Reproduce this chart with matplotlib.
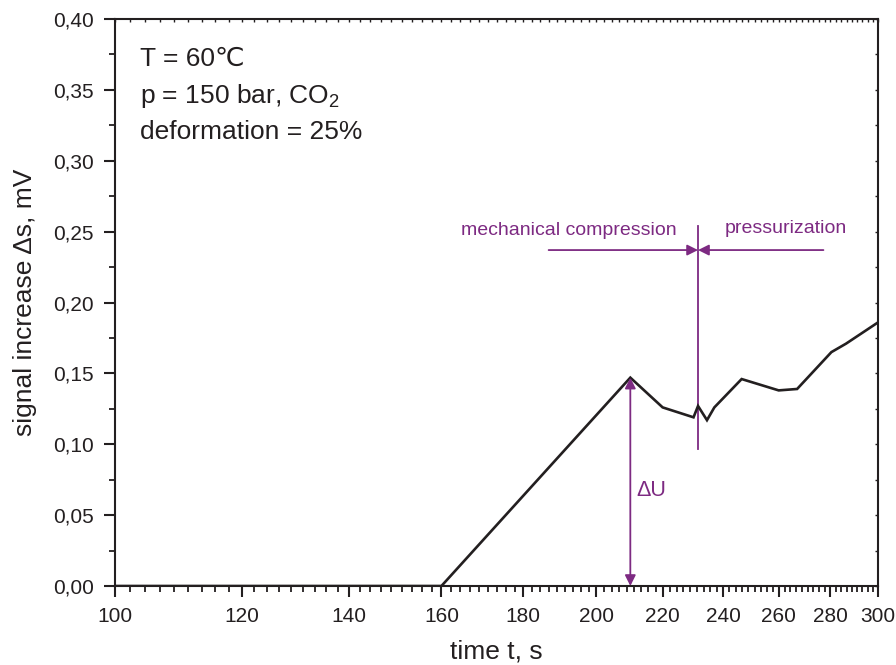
import numpy as np
import matplotlib
matplotlib.use("Agg")
import matplotlib.pyplot as plt
from matplotlib.ticker import FuncFormatter, NullFormatter

plt.rcParams['font.family'] = ['Liberation Sans', 'DejaVu Sans']
plt.rcParams['mathtext.fontset'] = 'custom'
plt.rcParams['mathtext.rm'] = 'Liberation Sans'
plt.rcParams['mathtext.it'] = 'Liberation Sans:italic'

# signal trace
time_s = [100, 160, 210, 220, 230, 231.5, 234.5, 237, 246.5, 260, 267, 280.5, 286.5, 300]
signal_mV = [0, 0, 0.147, 0.126, 0.119, 0.127, 0.117, 0.126, 0.146, 0.138, 0.139, 0.165, 0.171, 0.186]

x_major = list(range(100, 301, 20))
y_major = [0, 0.05, 0.10, 0.15, 0.20, 0.25, 0.30, 0.35, 0.40]

t_peak = 210
s_peak = 0.147
t_switch = 231.5
phase_left = 186.7
phase_right = 277.3
phase_y = 0.237

info_lines = ["T = 60\u2103", "p = 150 bar, CO$_2$", "deformation = 25%"]

purple = '#7d2a82'
ink = '#231f20'

# Origin-like minor ticks: 8 between majors
x_minor = [a + k * 20 / 9 for a in x_major[:-1] for k in range(1, 9)]
y_minor = [v + 0.025 for v in y_major[:-1]]

fig = plt.figure(figsize=(8.96, 6.65), dpi=100)
ax = fig.add_axes([0.1283, 0.1188, 0.98 - 0.1283, 0.9714 - 0.1188])

ax.plot(time_s, signal_mV, color=ink, lw=1.9, solid_joinstyle='miter', zorder=3)

ax.set_xscale('log')
ax.set_xlim(100, 300)
ax.set_ylim(0, 0.40)
ax.set_xticks(x_major)
ax.set_xticks(x_minor, minor=True)
ax.set_yticks(y_major)
ax.set_yticks(y_minor, minor=True)
ax.xaxis.set_major_formatter(FuncFormatter(lambda v, p: f"{v:.0f}"))
ax.xaxis.set_minor_formatter(NullFormatter())
ax.yaxis.set_major_formatter(FuncFormatter(lambda v, p: f"{v:.2f}".replace('.', ',')))

for sp in ax.spines.values():
    sp.set_linewidth(1.5)
    sp.set_color(ink)
ax.tick_params(which='major', length=8, width=1.5, color=ink, labelsize=15, pad=7, labelcolor=ink)
ax.tick_params(which='minor', length=4.5, width=1.3, color=ink)

# small inward ticks on top and right
top = ax.secondary_xaxis('top')
top.set_xticks(x_major)
top.set_xticks(x_minor, minor=True)
top.tick_params(which='both', direction='in', length=2, width=1, labeltop=False, color=ink)
top.xaxis.set_minor_formatter(NullFormatter())
right = ax.secondary_yaxis('right')
right.set_yticks(y_major)
right.set_yticks(y_minor, minor=True)
right.tick_params(which='both', direction='in', length=2, width=1, labelright=False, color=ink)
for s in (top, right):
    for sp in s.spines.values():
        sp.set_visible(False)

ax.set_xlabel('time t, s', fontsize=19, labelpad=10, color=ink)
ax.set_ylabel('signal increase \u0394s, mV', fontsize=19, labelpad=12, color=ink)

# info text
for i, line in enumerate(info_lines):
    ax.text(0.033, 0.929 - i * 0.0645, line, transform=ax.transAxes, fontsize=19,
            va='center', ha='left', color=ink)

# delta U arrow
ax.annotate('', xy=(t_peak, 0), xytext=(t_peak, s_peak),
            arrowprops=dict(arrowstyle='<|-|>', color=purple, lw=1.3,
                            mutation_scale=16, shrinkA=0, shrinkB=0))
ax.text(211.9, 0.0676, '\u0394U', fontsize=15.5, color=purple, va='center', ha='left')

# phase markers
ax.plot([t_switch, t_switch], [0.0963, 0.2537], color=purple, lw=1.3)
ax.annotate('', xy=(t_switch, phase_y), xytext=(phase_left, phase_y),
            arrowprops=dict(arrowstyle='-|>', color=purple, lw=1.3,
                            mutation_scale=16, shrinkA=0, shrinkB=0))
ax.annotate('', xy=(t_switch, phase_y), xytext=(phase_right, phase_y),
            arrowprops=dict(arrowstyle='-|>', color=purple, lw=1.3,
                            mutation_scale=16, shrinkA=0, shrinkB=0))
ax.text(192.1, 0.2505, 'mechanical compression', fontsize=14, color=purple, ha='center', va='center')
ax.text(262.6, 0.2525, 'pressurization', fontsize=14, color=purple, ha='center', va='center')

fig.savefig('out.png', dpi=100)
